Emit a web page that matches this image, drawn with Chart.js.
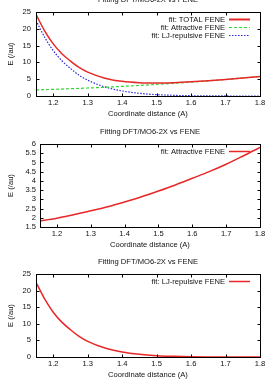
<!DOCTYPE html>
<html><head><meta charset="utf-8">
<script src="https://cdn.jsdelivr.net/npm/chart.js@4/dist/chart.umd.min.js"></script>
<style>
html,body{margin:0;padding:0;background:#fff;width:272px;height:384px;overflow:hidden;position:relative}
.p{position:absolute;left:0;width:272px}
</style></head><body>
<div class="p" style="top:-8px;height:136px"><canvas id="c1"></canvas></div>
<div class="p" style="top:124px;height:135px"><canvas id="c2"></canvas></div>
<div class="p" style="top:254px;height:130px"><canvas id="c3"></canvas></div>
<script>
// ---- data ----
const xValues    = [1.15, 1.175, 1.2, 1.225, 1.25, 1.275, 1.3, 1.35, 1.4, 1.45, 1.5, 1.55, 1.6, 1.65, 1.7, 1.75, 1.8];
const attractive = [1.82, 1.90, 1.98, 2.07, 2.17, 2.27, 2.38, 2.60, 2.86, 3.14, 3.45, 3.78, 4.14, 4.50, 4.90, 5.35, 5.82];
const repulsive  = [22.5, 17.5, 13.5, 10.5, 8.2, 6.2, 4.7, 2.7, 1.5, 0.8, 0.4, 0.2, 0.08, 0.03, 0.01, 0, 0];
const total      = [24.3, 19.4, 15.5, 12.6, 10.4, 8.5, 7.1, 5.3, 4.36, 3.94, 3.85, 3.98, 4.22, 4.53, 4.91, 5.35, 5.82];
const xTicks     = [1.2, 1.3, 1.4, 1.5, 1.6, 1.7, 1.8];
const yTicksTop  = [0, 5, 10, 15, 20, 25];
const yTicksMid  = [1.5, 2, 2.5, 3, 3.5, 4, 4.5, 5, 5.5, 6];
const yTicksBot  = [0, 5, 10, 15, 20, 25];
const titleText  = 'Fitting DFT/MO6-2X vs FENE';
const xTitle     = 'Coordinate distance (A)';
const yTitle     = 'E (/au)';
const labelTotal = 'fit: TOTAL FENE';
const labelAttr  = 'fit: Attractive FENE';
const labelRep   = 'fit: LJ-repulsive FENE';

const FONT = {family: '"Liberation Sans", Arial, sans-serif', size: 7.6};
const TXT = '#111';
const RED = 'rgb(232,40,40)', GREEN = 'rgb(50,215,50)', BLUE = 'rgb(40,40,215)';

const framePlugin = {
  id: 'frame',
  afterDatasetsDraw(chart, args, opts) {
    const {ctx, chartArea: a, scales: {x, y}} = chart;
    ctx.save();
    ctx.strokeStyle = '#000'; ctx.lineWidth = 1; ctx.setLineDash([]);
    const l = Math.round(a.left) + 0.5, r = Math.round(a.right) + 0.5, t = Math.round(a.top) + 0.5, b = Math.round(a.bottom) + 0.5;
    ctx.strokeRect(l, t, r - l, b - t);
    const L = 3;
    ctx.beginPath();
    x.ticks.forEach(tk => {
      const px = Math.round(x.getPixelForValue(tk.value)) + 0.5;
      ctx.moveTo(px, b); ctx.lineTo(px, b - L);
      ctx.moveTo(px, t); ctx.lineTo(px, t + L);
    });
    y.ticks.forEach(tk => {
      const py = Math.round(y.getPixelForValue(tk.value)) + 0.5;
      ctx.moveTo(l, py); ctx.lineTo(l + L, py);
      ctx.moveTo(r, py); ctx.lineTo(r - L, py);
    });
    ctx.stroke();
    ctx.fillStyle = TXT;
    ctx.font = FONT.size + 'px ' + FONT.family;
    ctx.textAlign = 'center'; ctx.textBaseline = 'middle';
    ctx.fillText(opts.title, (a.left + a.right) / 2, a.top - 12);
    chart.data.datasets.forEach((ds, i) => {
      const yy = Math.round(a.top + 7 + i * 8) + 0.5;
      ctx.fillStyle = TXT; ctx.textAlign = 'right';
      ctx.fillText(ds.label, a.right - 35, yy);
      ctx.strokeStyle = ds.borderColor; ctx.lineWidth = ds.legendWidth || ds.borderWidth;
      ctx.setLineDash(ds.borderDash || []);
      ctx.beginPath(); ctx.moveTo(a.right - 31, yy); ctx.lineTo(a.right - 10, yy); ctx.stroke();
      ctx.setLineDash([]);
    });
    ctx.restore();
  }
};

function pts(ys) { return xValues.map((xv, i) => ({x: xv, y: ys[i]})); }

function make(id, datasets, yMin, yMax, yTicks, cfg) {
  return new Chart(document.getElementById(id), {
    type: 'line',
    data: {datasets},
    options: {
      responsive: true, maintainAspectRatio: false, animation: false, devicePixelRatio: 1,
      layout: {padding: {top: 20, right: 12, left: 0, bottom: 0}},
      elements: {point: {radius: 0}, line: {cubicInterpolationMode: 'monotone'}},
      plugins: {legend: {display: false}, tooltip: {enabled: false}, frame: {title: titleText}},
      scales: {
        x: {
          type: 'linear', min: 1.15, max: 1.8,
          grid: {display: false, drawTicks: false}, border: {display: false},
          afterBuildTicks: s => { s.ticks = xTicks.map(v => ({value: v})); },
          afterFit: s => { s.height = cfg.xh; },
          ticks: {font: FONT, color: TXT, padding: 2.5, maxRotation: 0, autoSkip: false, callback: v => String(v)},
          title: {display: true, text: xTitle, font: FONT, color: TXT, padding: {top: 0, bottom: cfg.xh - 18 - FONT.size * 0.6}}
        },
        y: {
          type: 'linear', min: yMin, max: yMax,
          grid: {display: false, drawTicks: false}, border: {display: false},
          afterBuildTicks: s => { s.ticks = yTicks.map(v => ({value: v})); },
          afterFit: s => { s.width = cfg.yw; },
          ticks: {font: FONT, color: TXT, padding: cfg.yp, autoSkip: false, callback: v => String(v)},
          title: {display: true, text: yTitle, font: FONT, color: TXT, padding: {top: 6.5, bottom: 0}}
        }
      }
    },
    plugins: [framePlugin]
  });
}

make('c1', [
  {label: labelTotal, data: pts(total), borderColor: RED, borderWidth: 1.5, legendWidth: 2, fill: false},
  {label: labelAttr, data: pts(attractive), borderColor: GREEN, borderWidth: 1.2, borderDash: [3, 2], fill: false},
  {label: labelRep, data: pts(repulsive), borderColor: BLUE, borderWidth: 1.2, borderDash: [1.5, 1.5], fill: false}
], 0, 25, yTicksTop, {xh: 32, yw: 36, yp: 5});

make('c2', [
  {label: labelAttr, data: pts(attractive), borderColor: RED, borderWidth: 1.5, fill: false}
], 1.5, 6, yTicksMid, {xh: 32, yw: 40, yp: 4});

make('c3', [
  {label: labelRep, data: pts(repulsive), borderColor: RED, borderWidth: 1.5, fill: false}
], 0, 25, yTicksBot, {xh: 27, yw: 36, yp: 5});
</script>
</body></html>
